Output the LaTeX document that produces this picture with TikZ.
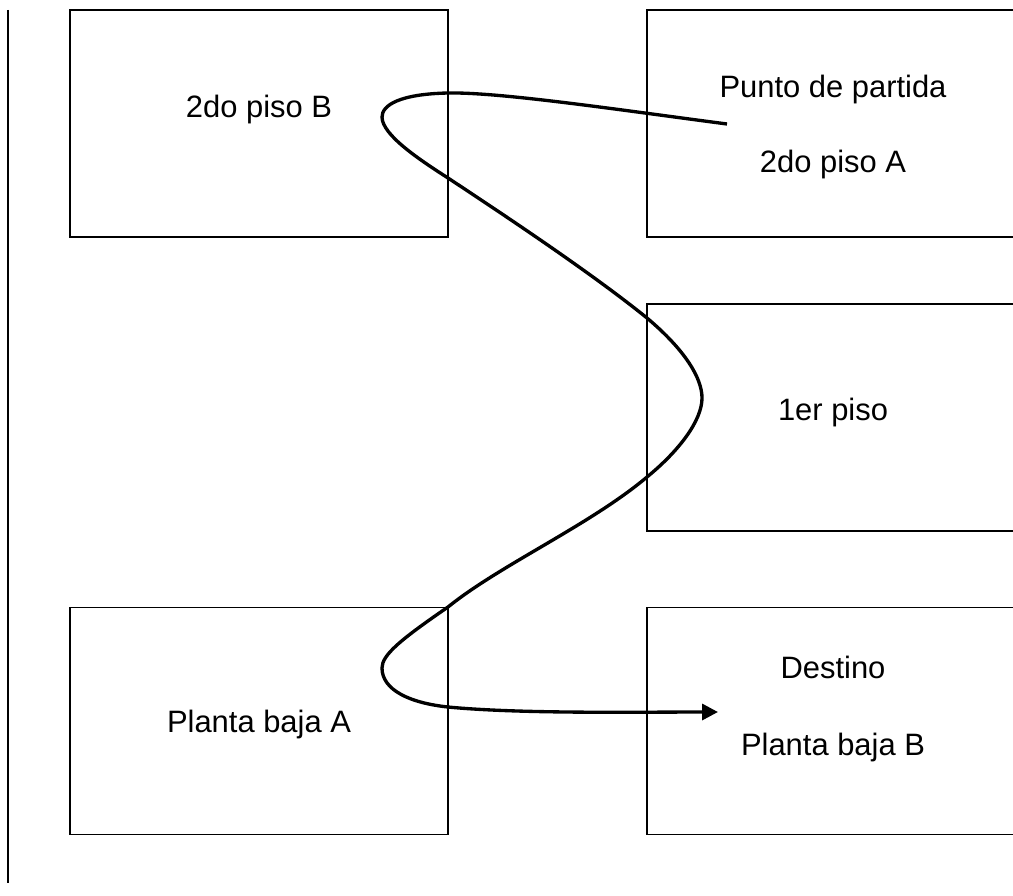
\documentclass[tikz,border=0pt]{standalone}
\usepackage{fontspec}
\setmainfont{Liberation Sans}
\usetikzlibrary{arrows.meta}
\tikzset{
    room/.style={draw, line width=0.7pt, minimum width=378*0.02cm, minimum height=227*0.02cm, inner sep=0pt},
    label/.style={anchor=base, font=\fontsize{17.6pt}{21pt}\selectfont},
    route/.style={line width=1.9pt, -{Triangle[length=9pt, width=9pt]}}
}
\begin{document}
\begin{tikzpicture}[x=0.02cm, y=-0.02cm]
    \useasboundingbox (0, 0) rectangle (1013, 895);
    \clip (0, 0) rectangle (1013, 895);
    \draw[line width=0.7pt] (8, 10) -- (8, 883);

    \node[room] (pisoB) at (259, 123.5) {};
    \node[room, minimum width=372*0.02cm] (pisoA) at (833, 123.5) {};
    \node[room, minimum width=372*0.02cm] (primer) at (833, 417.5) {};
    \node[room] (bajaA) at (259, 721) {};
    \node[room, minimum width=372*0.02cm] (bajaB) at (833, 721) {};

    \node[label] (tB) at (259, 118) {2do piso B};
    \node[label] (tpartida) at (833, 98) {Punto de partida};
    \node[label] (tA) at (833, 173) {2do piso A};
    \node[label] (tprimer) at (833, 420) {1er piso};
    \node[label] (tbajaA) at (259, 732) {Planta baja A};
    \node[label] (tdestino) at (833, 678) {Destino};
    \node[label] (tbajaB) at (833, 755) {Planta baja B};

    \coordinate (start) at (727, 124);
    \coordinate (goal) at (718, 712);
    \draw[route] (start) .. controls (620, 110) and (500, 92) .. (448, 93)
        .. controls (400, 94) and (382, 105) .. (382, 117)
        .. controls (382, 135) and (420, 160) .. (448, 178)
        .. controls (530, 232) and (600, 280) .. (647, 318)
        .. controls (685, 350) and (702, 378) .. (702, 398)
        .. controls (702, 420) and (680, 450) .. (647, 477)
        .. controls (590, 525) and (500, 565) .. (448, 607)
        .. controls (400, 640) and (382, 655) .. (382, 668)
        .. controls (382, 690) and (410, 703) .. (448, 707)
        .. controls (520, 714) and (640, 712) .. (goal);
\end{tikzpicture}
\end{document}
